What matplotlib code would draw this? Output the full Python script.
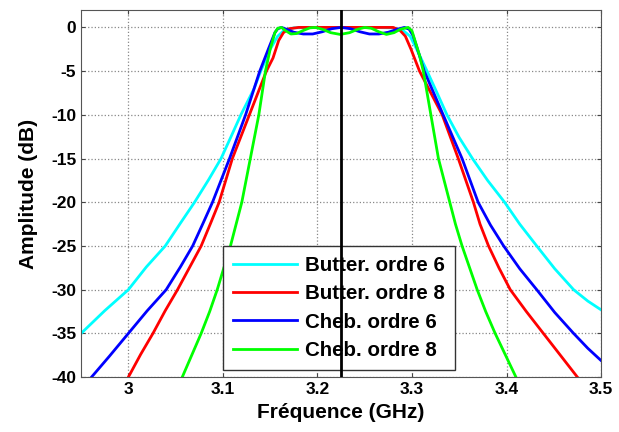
import matplotlib
matplotlib.use("Agg")
import matplotlib.pyplot as plt

plt.rcParams["font.family"] = ["Liberation Sans", "DejaVu Sans"]
plt.rcParams["axes.unicode_minus"] = False

# ── data (GHz, dB) ──────────────────────────────────────────────────────────

butter6_f = [2.950, 2.975, 3.000, 3.019, 3.039, 3.055, 3.070, 3.085, 3.098,
             3.109, 3.119, 3.133, 3.140, 3.150, 3.158, 3.165, 3.175, 3.200,
             3.225, 3.255, 3.280, 3.290, 3.298, 3.305, 3.316, 3.327, 3.337,
             3.350, 3.364, 3.380, 3.398, 3.414, 3.432, 3.451, 3.471, 3.486,
             3.500]
butter6_db = [-35.0, -32.4, -30.0, -27.4, -25.0, -22.4, -20.0, -17.4, -15.0,
              -12.4, -10.0, -7.0, -5.0, -2.5, -1.0, -0.3, -0.05, 0.0,
              0.0, 0.0, -0.05, -0.3, -1.0, -2.5, -5.0, -7.6, -10.0,
              -12.6, -15.0, -17.5, -20.0, -22.5, -25.0, -27.6, -30.0, -31.3,
              -32.3]

butter8_f = [3.000, 3.013, 3.026, 3.039, 3.052, 3.065, 3.077, 3.087, 3.096,
             3.110, 3.128, 3.146, 3.153, 3.159, 3.164, 3.170, 3.180, 3.230,
             3.280, 3.287, 3.293, 3.299, 3.308, 3.320, 3.332, 3.349, 3.365,
             3.372, 3.381, 3.392, 3.404, 3.421, 3.439, 3.457, 3.475]
butter8_db = [-40.0, -37.4, -35.0, -32.4, -30.0, -27.4, -25.0, -22.4, -20.0,
              -15.0, -10.0, -5.0, -3.5, -1.5, -0.6, -0.15, 0.0, 0.0,
              0.0, -0.3, -1.0, -2.5, -5.0, -7.5, -10.0, -15.0, -20.0,
              -22.5, -25.0, -27.5, -30.0, -32.5, -35.0, -37.5, -40.0]

cheb6_f = [2.961, 2.980, 3.000, 3.020, 3.040, 3.055, 3.068, 3.079, 3.089,
           3.107, 3.124, 3.139, 3.148, 3.155, 3.158, 3.162, 3.167, 3.175,
           3.185, 3.195, 3.205, 3.215, 3.225, 3.235, 3.245, 3.255, 3.265,
           3.275, 3.285, 3.292, 3.297, 3.301, 3.305, 3.313, 3.333, 3.353,
           3.370, 3.383, 3.397, 3.414, 3.432, 3.451, 3.471, 3.486, 3.500]
cheb6_db = [-40.0, -37.6, -35.0, -32.4, -30.0, -27.4, -25.0, -22.4, -20.0,
            -15.0, -10.0, -5.0, -2.5, -0.6, -0.15, 0.0, -0.2, -0.55,
            -0.75, -0.75, -0.5, -0.15, 0.0, -0.15, -0.5, -0.75, -0.75,
            -0.55, -0.2, 0.0, -0.2, -0.9, -2.2, -5.0, -10.0, -15.0,
            -20.0, -22.6, -25.0, -27.6, -30.0, -32.6, -35.0, -36.7, -38.1]

cheb8_f = [3.057, 3.067, 3.077, 3.086, 3.094, 3.101, 3.108, 3.120, 3.129,
           3.138, 3.145, 3.150, 3.155, 3.158, 3.162, 3.166, 3.172, 3.178,
           3.185, 3.192, 3.198, 3.205, 3.214, 3.224, 3.234, 3.243, 3.250,
           3.257, 3.265, 3.273, 3.281, 3.288, 3.296, 3.300, 3.304, 3.308,
           3.312, 3.320, 3.328, 3.340, 3.346, 3.353, 3.361, 3.369, 3.378,
           3.388, 3.399, 3.410]
cheb8_db = [-40.0, -37.5, -35.0, -32.5, -30.0, -27.5, -25.0, -20.0, -15.0,
            -10.0, -5.0, -2.5, -0.6, -0.1, 0.0, -0.35, -0.75, -0.7,
            -0.35, -0.05, 0.0, -0.2, -0.6, -0.8, -0.6, -0.2, 0.0,
            -0.1, -0.5, -0.8, -0.6, -0.2, 0.0, -0.4, -1.8, -3.2,
            -5.0, -10.0, -15.0, -20.0, -22.5, -25.0, -27.5, -30.0, -32.5,
            -35.0, -37.5, -40.0]

center_f = 3.225

x_ticks = [3.0, 3.1, 3.2, 3.3, 3.4, 3.5]
x_tick_labels = ["3", "3.1", "3.2", "3.3", "3.4", "3.5"]
y_ticks = [0, -5, -10, -15, -20, -25, -30, -35, -40]

# ── figure ──────────────────────────────────────────────────────────────────

fig = plt.figure(figsize=(6.19, 4.32), dpi=100)
ax = fig.add_axes([0.131, 0.127, 0.840, 0.850])

ax.plot(butter6_f, butter6_db, color="#00FFFF", lw=2, label="Butter. ordre 6")
ax.plot(butter8_f, butter8_db, color="#FF0000", lw=2, label="Butter. ordre 8")
ax.plot(cheb6_f, cheb6_db, color="#0000FF", lw=2, label="Cheb. ordre 6")
ax.plot(cheb8_f, cheb8_db, color="#00FF00", lw=2, label="Cheb. ordre 8")
ax.axvline(center_f, color="black", lw=2, zorder=6)

ax.set_xlim(2.95, 3.5)
ax.set_ylim(-40, 2)
ax.set_xticks(x_ticks)
ax.set_xticklabels(x_tick_labels)
ax.set_yticks(y_ticks)
ax.tick_params(direction="in", top=True, right=True, labelsize=12.5,
               length=3, color="#444444")
for lab in ax.get_xticklabels() + ax.get_yticklabels():
    lab.set_fontweight("bold")
ax.grid(True, linestyle=":", color="#888888", lw=0.9)
for s in ax.spines.values():
    s.set_color("#555555")

ax.set_xlabel("Fréquence (GHz)", fontsize=15, fontweight="bold", labelpad=4)
ax.set_ylabel("Amplitude (dB)", fontsize=15, fontweight="bold", labelpad=9)

leg = ax.legend(loc="lower left", bbox_to_anchor=(0.273, 0.019),
                prop={"size": 14.8, "weight": "bold"},
                fancybox=False, framealpha=1,
                edgecolor="#333333", borderaxespad=0, borderpad=0.5,
                handlelength=3.1, handletextpad=0.4, labelspacing=0.45)
leg.get_frame().set_linewidth(1.0)

fig.savefig("out.png", dpi=100)
